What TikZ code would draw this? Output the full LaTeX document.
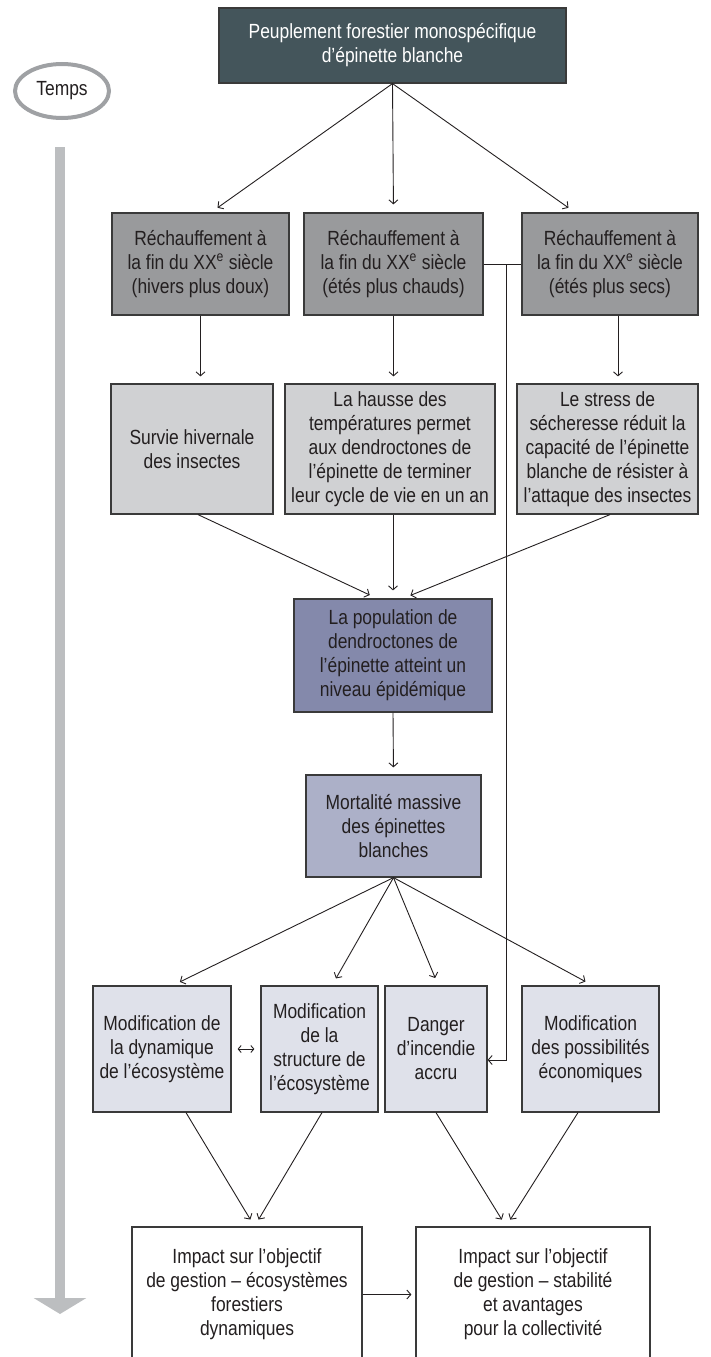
\documentclass[tikz,border=0pt]{standalone}
\usepackage{fontspec}
\setmainfont{Liberation Sans}[FakeStretch=0.85]
\usetikzlibrary{arrows.meta,calc,shapes.geometric}

\definecolor{ink}{HTML}{231F20}
\definecolor{frame}{HTML}{3A3A3A}
\definecolor{topfill}{HTML}{44555B}
\definecolor{warmfill}{HTML}{999A9C}
\definecolor{effectfill}{HTML}{D0D1D3}
\definecolor{epidfill}{HTML}{8489AB}
\definecolor{mortfill}{HTML}{ACB0C8}
\definecolor{consfill}{HTML}{DFE1EA}
\definecolor{timegray}{HTML}{BCBEC0}
\definecolor{ringgray}{HTML}{9FA1A4}

\newcommand{\boxfont}{\fontsize{20.5}{24}\selectfont}

\begin{document}
\begin{tikzpicture}[x=1pt,y=-1pt,
    box/.style={draw=frame, line width=1.2pt, align=center, inner sep=0pt, text=ink, font=\boxfont},
    arr/.style={draw=ink, line width=0.9pt, -{Straight Barb[length=4pt,width=9pt]}, shorten >=8pt},
    timebar/.style={draw=timegray, line width=10pt, -{Triangle[length=16pt,width=52pt]}, shorten <=27pt}]
    \useasboundingbox (0,0) rectangle (711,1357);

    \node[box, fill=topfill, text=white, minimum width=347pt, minimum height=75pt] (top) at (392.5,45.5)
        {Peuplement forestier monospécifique\\d’épinette blanche};
    \node[ellipse, draw=ringgray, line width=4pt, minimum width=94pt, minimum height=54pt,
        inner sep=0pt, text=ink, font=\boxfont] (temps) at (62,91) {Temps};
    \coordinate (timeend) at (60,1314);
    \draw[timebar] ([xshift=-2pt]temps.south) -- (timeend);

    \node[box, fill=warmfill, minimum width=177pt, minimum height=102pt] (A) at (200.5,264)
        {Réchauffement à\\la fin du XX\textsuperscript{e} siècle\\(hivers plus doux)};
    \node[box, fill=warmfill, minimum width=179pt, minimum height=102pt] (B) at (393.5,264)
        {Réchauffement à\\la fin du XX\textsuperscript{e} siècle\\(étés plus chauds)};
    \node[box, fill=warmfill, minimum width=176pt, minimum height=102pt] (C) at (610,264)
        {Réchauffement à\\la fin du XX\textsuperscript{e} siècle\\(étés plus secs)};

    \node[box, fill=effectfill, minimum width=162pt, minimum height=130pt] (survie) at (192,449)
        {Survie hivernale\\des insectes};
    \node[box, fill=effectfill, minimum width=210pt, minimum height=130pt] (hausse) at (390,449)
        {La hausse des\\températures permet\\aux dendroctones de\\l’épinette de terminer\\leur cycle de vie en un an};
    \node[box, fill=effectfill, minimum width=181pt, minimum height=130pt] (stress) at (607.5,449)
        {Le stress de\\sécheresse réduit la\\capacité de l’épinette\\blanche de résister à\\l’attaque des insectes};

    \node[box, fill=epidfill, minimum width=198pt, minimum height=113pt] (population) at (393,655.5)
        {La population de\\dendroctones de\\l’épinette atteint un\\niveau épidémique};
    \node[box, fill=mortfill, minimum width=175pt, minimum height=102pt] (mort) at (393.5,826)
        {Mortalité massive\\des épinettes\\blanches};

    \node[box, fill=consfill, minimum width=138pt, minimum height=126pt] (dyn) at (162,1049)
        {Modification de\\la dynamique\\de l’écosystème};
    \node[box, fill=consfill, minimum width=117pt, minimum height=126pt] (struct) at (319.5,1049)
        {Modification\\de la\\structure de\\l’écosystème};
    \node[box, fill=consfill, minimum width=102pt, minimum height=126pt] (danger) at (436,1049)
        {Danger\\d’incendie\\accru};
    \node[box, fill=consfill, minimum width=137pt, minimum height=126pt] (eco) at (590.5,1049)
        {Modification\\des possibilités\\économiques};

    \node[box, fill=white, minimum width=230pt, minimum height=135pt] (impA) at (247,1294.5)
        {Impact sur l’objectif\\de gestion – écosystèmes\\forestiers\\dynamiques};
    \node[box, fill=white, minimum width=234pt, minimum height=135pt] (impB) at (533,1294.5)
        {Impact sur l’objectif\\de gestion – stabilité\\et avantages\\pour la collectivité};

    \foreach \n/\dx in {A/10.5, B/0, C/-35}
        \draw[arr] (top.south) -- ($(\n.north)+(\dx,0)$);

    \draw[arr, shorten >=7pt] (A.south) -- (A.south |- survie.north);
    \draw[arr, shorten >=7pt] (B.south) -- (B.south |- hausse.north);
    \draw[arr, shorten >=7pt] ($(C.south)+(8,0)$) -- ($(C.south |- stress.north)+(8,0)$);

    \coordinate (branch) at (506,264);
    \draw[draw=ink, line width=0.9pt] (B.east) -- (C.west);
    \draw[arr, shorten >=0pt] (branch) |- ($(danger.east)+(0,11)$);

    \draw[arr] ($(survie.south)+(6,0)$) -- ($(population.north)+(-16,0)$);
    \draw[arr] (population.north |- hausse.south) -- (population.north);
    \draw[arr] ($(stress.south)+(2.5,0)$) -- ($(population.north)+(10,0)$);
    \draw[arr, shorten >=7pt] (population.south) -- (mort.north);

    \foreach \n/\dx in {dyn/10.7, struct/12.5, danger/2.3, eco/2}
        \draw[arr] (mort.south) -- ($(\n.north)+(\dx,0)$);

    \draw[arr, {Straight Barb[length=3pt,width=7pt]}-{Straight Barb[length=3pt,width=7pt]},
        shorten <=6pt, shorten >=6pt] (dyn.east) -- (dyn.east -| struct.west);

    \draw[arr] ($(dyn.south)+(24,0)$) -- ($(impA.north)+(7.5,0)$);
    \draw[arr] ($(struct.south)+(2.5,0)$) -- ($(impA.north)+(7.5,0)$);
    \draw[arr] (danger.south) -- ($(impB.north)+(-27,0)$);
    \draw[arr] ($(eco.south)+(-12.5,0)$) -- ($(impB.north)+(-27,0)$);
    \draw[arr, shorten >=4pt] (impA.east) -- (impB.west);
\end{tikzpicture}
\end{document}
